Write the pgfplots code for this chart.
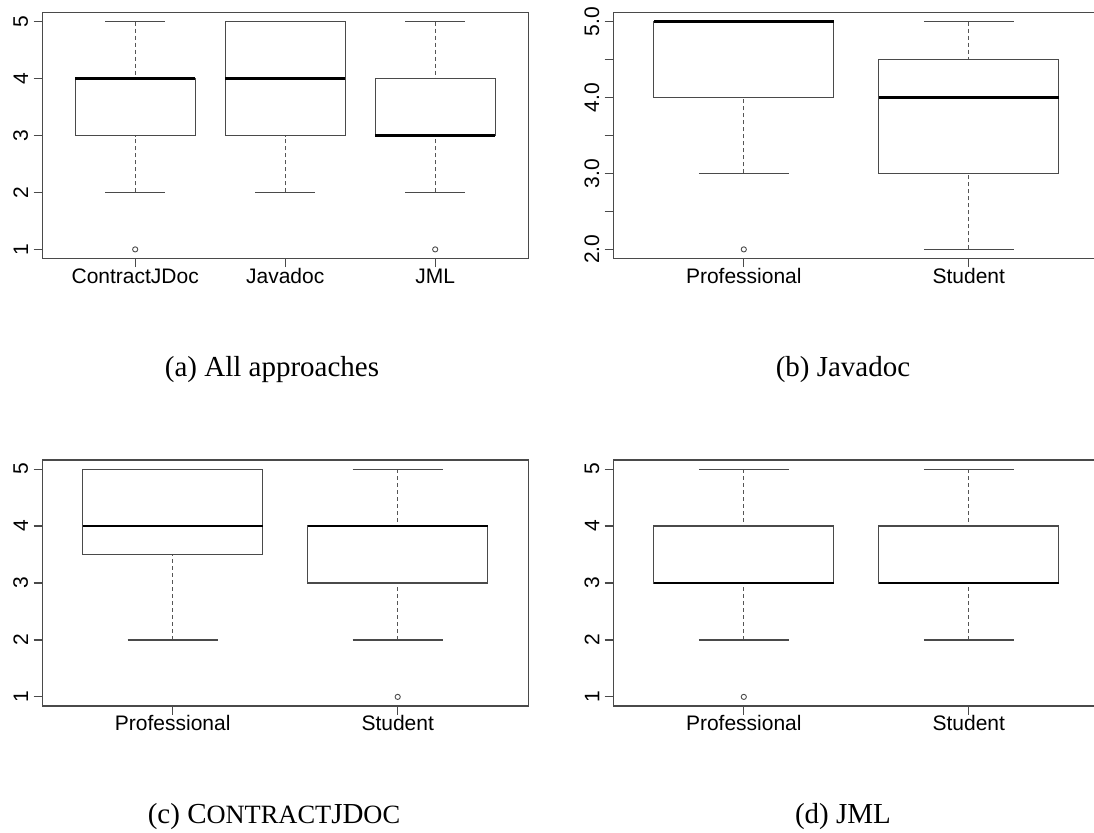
\documentclass[border=0pt]{standalone}
\usepackage{pgfplots}
\pgfplotsset{compat=1.18}
\usepgfplotslibrary{statistics}
\usepackage{fontspec}
\setmainfont{Liberation Serif}
\setsansfont{Liberation Sans}
\definecolor{frame}{HTML}{4A4A4A}
\definecolor{whisk}{HTML}{555555}
\newcommand\fsc[1]{{\fontsize{13.2}{14}\selectfont #1}}
\pgfplotsset{
  rbox/.style={
    scale only axis, width=243pt, height=123pt,
    axis line style={frame, line width=0.6pt},
    every tick/.style={frame, line width=0.6pt},
    tick align=outside, tick pos=left,
    major tick length=4.3pt, minor tick length=4.3pt,
    /pgf/number format/assume math mode=true,
    tick label style={font=\sffamily\fontsize{10.5}{12}\selectfont, text=black},
    xticklabel style={text height=7.6pt, text depth=0pt, inner ysep=0.3pt},
    yticklabel style={rotate=90, anchor=south, inner ysep=2.5pt},
    boxplot/draw direction=y,
    boxplot/box extend=0.8,
    boxplot/whisker extend=0.4,
    boxplot/every box/.style={draw=frame, fill=white, line width=0.6pt},
    boxplot/every median/.style={draw=black, line width=1.4pt},
    boxplot/draw/lower whisker/.code={%
      \draw[whisk, line width=0.5pt, dash pattern=on 2pt off 1.5pt]
        (boxplot box cs:\pgfplotsboxplotvalue{lower whisker},0.5) --
        (boxplot box cs:\pgfplotsboxplotvalue{lower quartile},0.5);
      \draw[frame, line width=0.6pt]
        (boxplot whisker cs:\pgfplotsboxplotvalue{lower whisker},0) --
        (boxplot whisker cs:\pgfplotsboxplotvalue{lower whisker},1);
    },
    boxplot/draw/upper whisker/.code={%
      \draw[whisk, line width=0.5pt, dash pattern=on 2pt off 1.5pt]
        (boxplot box cs:\pgfplotsboxplotvalue{upper whisker},0.5) --
        (boxplot box cs:\pgfplotsboxplotvalue{upper quartile},0.5);
      \draw[frame, line width=0.6pt]
        (boxplot whisker cs:\pgfplotsboxplotvalue{upper whisker},0) --
        (boxplot whisker cs:\pgfplotsboxplotvalue{upper whisker},1);
    },
  },
  rplot/.style={frame, mark=o, mark size=1.3pt, mark options={line width=0.45pt, solid}},
}
\begin{document}
\begin{tikzpicture}
\useasboundingbox (0,0) rectangle (547pt,416pt);
\clip (0,0) rectangle (547pt,416pt);
% (a) All approaches
\begin{axis}[rbox, at={(21.1pt,286.75pt)}, anchor=south west,
  xmin=0.38, xmax=3.62, ymin=0.84, ymax=5.16,
  xtick={1,2,3}, xticklabels={ContractJDoc,Javadoc,JML},
  ytick={1,2,3,4,5}]
\addplot[rplot, boxplot prepared={draw position=1, lower whisker=2, lower quartile=3, median=4, upper quartile=4, upper whisker=5}] coordinates {(0,1)};
\addplot[rplot, boxplot prepared={draw position=2, lower whisker=2, lower quartile=3, median=4, upper quartile=5, upper whisker=5}] coordinates {};
\addplot[rplot, boxplot prepared={draw position=3, lower whisker=2, lower quartile=3, median=3, upper quartile=4, upper whisker=5}] coordinates {(0,1)};
\end{axis}
% (b) Javadoc
\begin{axis}[rbox, at={(306.65pt,286.75pt)}, anchor=south west,
  xmin=0.42, xmax=2.58, ymin=1.88, ymax=5.12,
  xtick={1,2}, xticklabels={Professional,Student},
  ytick={2,3,4,5}, yticklabels={2.0,3.0,4.0,5.0},
  minor ytick={2.5,3.5,4.5}]
\addplot[rplot, boxplot prepared={draw position=1, lower whisker=3, lower quartile=4, median=5, upper quartile=5, upper whisker=5}] coordinates {(0,2)};
\addplot[rplot, boxplot prepared={draw position=2, lower whisker=2, lower quartile=3, median=4, upper quartile=4.5, upper whisker=5}] coordinates {};
\end{axis}
% (c) ContractJDoc
\begin{axis}[rbox, at={(21.1pt,63pt)}, anchor=south west,
  xmin=0.42, xmax=2.58, ymin=0.84, ymax=5.16,
  xtick={1,2}, xticklabels={Professional,Student},
  ytick={1,2,3,4,5}]
\addplot[rplot, boxplot prepared={draw position=1, lower whisker=2, lower quartile=3.5, median=4, upper quartile=5, upper whisker=5}] coordinates {};
\addplot[rplot, boxplot prepared={draw position=2, lower whisker=2, lower quartile=3, median=4, upper quartile=4, upper whisker=5}] coordinates {(0,1)};
\end{axis}
% (d) JML
\begin{axis}[rbox, at={(306.65pt,63pt)}, anchor=south west,
  xmin=0.42, xmax=2.58, ymin=0.84, ymax=5.16,
  xtick={1,2}, xticklabels={Professional,Student},
  ytick={1,2,3,4,5}]
\addplot[rplot, boxplot prepared={draw position=1, lower whisker=2, lower quartile=3, median=3, upper quartile=4, upper whisker=5}] coordinates {(0,1)};
\addplot[rplot, boxplot prepared={draw position=2, lower whisker=2, lower quartile=3, median=3, upper quartile=4, upper whisker=5}] coordinates {};
\end{axis}
\node[anchor=base, font=\fontsize{14.5}{17}\selectfont] at (136pt,228pt) {(a) All approaches};
\node[anchor=base, font=\fontsize{14.5}{17}\selectfont] at (421.5pt,228pt) {(b) Javadoc};
\node[anchor=base, font=\fontsize{14.5}{17}\selectfont] at (137pt,4.3pt) {(c) C\fsc{ONTRACT}JD\fsc{OC}};
\node[anchor=base, font=\fontsize{14.5}{17}\selectfont] at (421.5pt,4.3pt) {(d) JML};
\end{tikzpicture}
\end{document}
